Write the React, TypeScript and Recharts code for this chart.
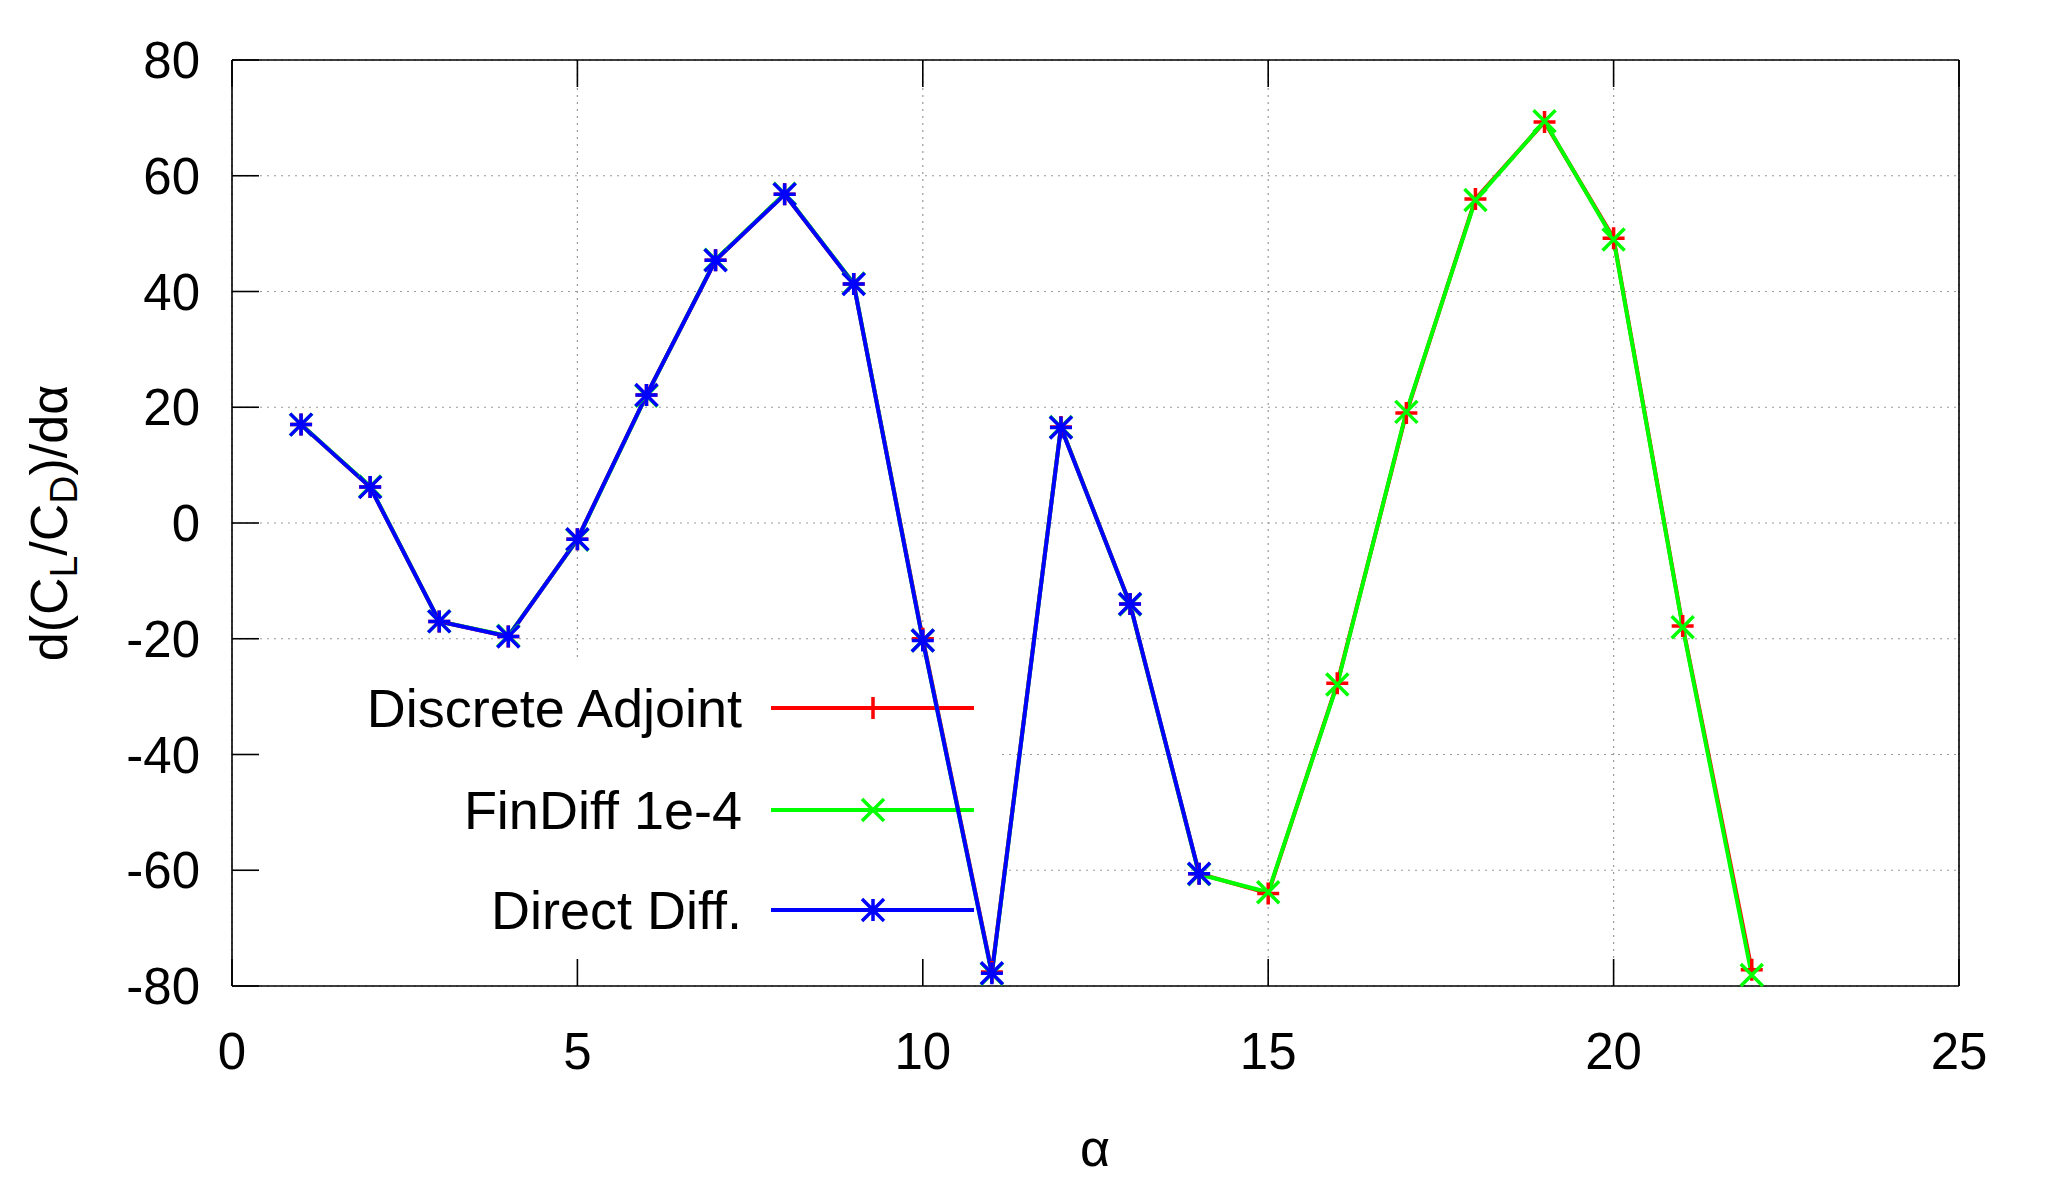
import React from 'react';
import { LineChart, Line, XAxis, YAxis, CartesianGrid } from 'recharts';

const ALPHA = [1, 2, 3, 4, 5, 6, 7, 8, 9, 10, 11, 12, 13, 14, 15, 16, 17, 18, 19, 20, 21, 22];
const DISCRETE_ADJOINT = [17.0, 6.2, -17.0, -19.6, -2.8, 22.1, 45.4, 56.8, 41.3, -20.0, -77.6, 16.6, -14.0, -60.6, -64.0, -27.7, 19.0, 56.0, 69.3, 49.2, -17.8, -77.2];
const FIN_DIFF = [17.0, 6.3, -17.0, -19.5, -2.9, 22.0, 45.5, 56.9, 41.4, -20.3, -77.9, 16.6, -14.1, -60.7, -63.8, -27.9, 19.2, 55.8, 69.4, 49.0, -18.0, -78.1];
const DIRECT_DIFF = [17.0, 6.2, -17.0, -19.6, -2.8, 22.1, 45.4, 56.8, 41.3, -20.3, -77.8, 16.5, -14.0, -60.6];

const X_TICKS = [0, 5, 10, 15, 20, 25];
const Y_TICKS = [-80, -60, -40, -20, 0, 20, 40, 60, 80];

const SERIES = [
  { key: 'adjoint', name: 'Discrete Adjoint', color: '#ff0000', marker: 'plus' },
  { key: 'findiff', name: 'FinDiff 1e-4', color: '#00ff00', marker: 'cross' },
  { key: 'direct', name: 'Direct Diff.', color: '#0000ff', marker: 'star' },
] as const;

const FONT = '"Liberation Sans", Arial, Helvetica, sans-serif';
const FONT_SIZE = 51;
const TICK_STYLE = { fill: '#000', fontSize: FONT_SIZE, fontFamily: FONT };
const TICK_LEN = -27; // gnuplot draws ticks inward
const AXIS_LINE = { stroke: '#000', strokeWidth: 1.6 };
const NO_LABEL = () => <g />;

const data = ALPHA.map((a, i) => ({
  alpha: a,
  adjoint: DISCRETE_ADJOINT[i],
  findiff: FIN_DIFF[i],
  direct: i < DIRECT_DIFF.length ? DIRECT_DIFF[i] : null,
}));

function markerPath(kind: string, cx: number, cy: number, s = 11) {
  const plus = `M${cx - s},${cy}H${cx + s}M${cx},${cy - s}V${cy + s}`;
  const cross = `M${cx - s},${cy - s}L${cx + s},${cy + s}M${cx - s},${cy + s}L${cx + s},${cy - s}`;
  if (kind === 'plus') return plus;
  if (kind === 'cross') return cross;
  return plus + cross;
}

function makeDot(kind: string, color: string) {
  return (props: any) => {
    const { cx, cy, index } = props;
    if (cx == null || cy == null || props.value == null) return <g key={`d-${kind}-${index}`} />;
    return (
      <path key={`d-${kind}-${index}`} d={markerPath(kind, cx, cy)} stroke={color} strokeWidth={3.5} fill="none" />
    );
  };
}

// key box: gnuplot paints it opaque over the grid, below the curves
function KeyBox() {
  const rows = [727, 829, 929];
  return (
    <g>
      <rect x={233} y={658} width={769} height={327} fill="#fff" />
      {SERIES.map((s, i) => (
        <g key={s.key}>
          <text x={742} y={rows[i]} textAnchor="end" fontFamily={FONT} fontSize={54} fill="#000">
            {s.name}
          </text>
          <line x1={771} x2={974} y1={rows[i] - 19} y2={rows[i] - 19} stroke={s.color} strokeWidth={4} />
          <path d={markerPath(s.marker, 873, rows[i] - 19)} stroke={s.color} strokeWidth={3.5} fill="none" />
        </g>
      ))}
      <text transform="translate(67,523) rotate(-90)" textAnchor="middle" fontFamily={FONT} fontSize={52} fill="#000">
        d(C<tspan fontSize={39} dy={10}>L</tspan>
        <tspan dy={-10}>/C</tspan>
        <tspan fontSize={39} dy={10}>D</tspan>
        <tspan dy={-10}>)/dα</tspan>
      </text>
      <text x={1095} y={1166} textAnchor="middle" fontFamily={FONT} fontSize={52} fill="#000">
        α
      </text>
    </g>
  );
}

export default function App() {
  return (
    <div style={{ position: 'absolute', left: 0, top: 0, width: 2048, height: 1200, background: '#fff' }}>
      <LineChart width={2048} height={1200} data={data} margin={{ top: 59, right: 88, bottom: 0, left: 0 }}>
        <CartesianGrid stroke="#999" strokeDasharray="2 5" strokeWidth={1.2} />
        <KeyBox />
        {SERIES.map((s) => (
          <Line
            key={s.key}
            type="linear"
            dataKey={s.key}
            name={s.name}
            stroke={s.color}
            strokeWidth={4}
            dot={makeDot(s.marker, s.color)}
            activeDot={false}
            isAnimationActive={false}
          />
        ))}
        <XAxis
          dataKey="alpha"
          type="number"
          domain={[0, 25]}
          ticks={X_TICKS}
          height={214}
          tickSize={TICK_LEN}
          tickMargin={74}
          tick={TICK_STYLE}
          axisLine={AXIS_LINE}
          tickLine={AXIS_LINE}
        />
        <XAxis
          xAxisId="top"
          orientation="top"
          dataKey="alpha"
          type="number"
          domain={[0, 25]}
          ticks={X_TICKS}
          height={1}
          tickSize={TICK_LEN}
          tick={NO_LABEL}
          axisLine={AXIS_LINE}
          tickLine={AXIS_LINE}
        />
        <YAxis
          type="number"
          domain={[-80, 80]}
          ticks={Y_TICKS}
          width={232}
          tickSize={TICK_LEN}
          tickMargin={59}
          tick={TICK_STYLE}
          axisLine={AXIS_LINE}
          tickLine={AXIS_LINE}
        />
        <YAxis
          yAxisId="right"
          orientation="right"
          type="number"
          domain={[-80, 80]}
          ticks={Y_TICKS}
          width={1}
          tickSize={TICK_LEN}
          tick={NO_LABEL}
          axisLine={AXIS_LINE}
          tickLine={AXIS_LINE}
        />
      </LineChart>
    </div>
  );
}
